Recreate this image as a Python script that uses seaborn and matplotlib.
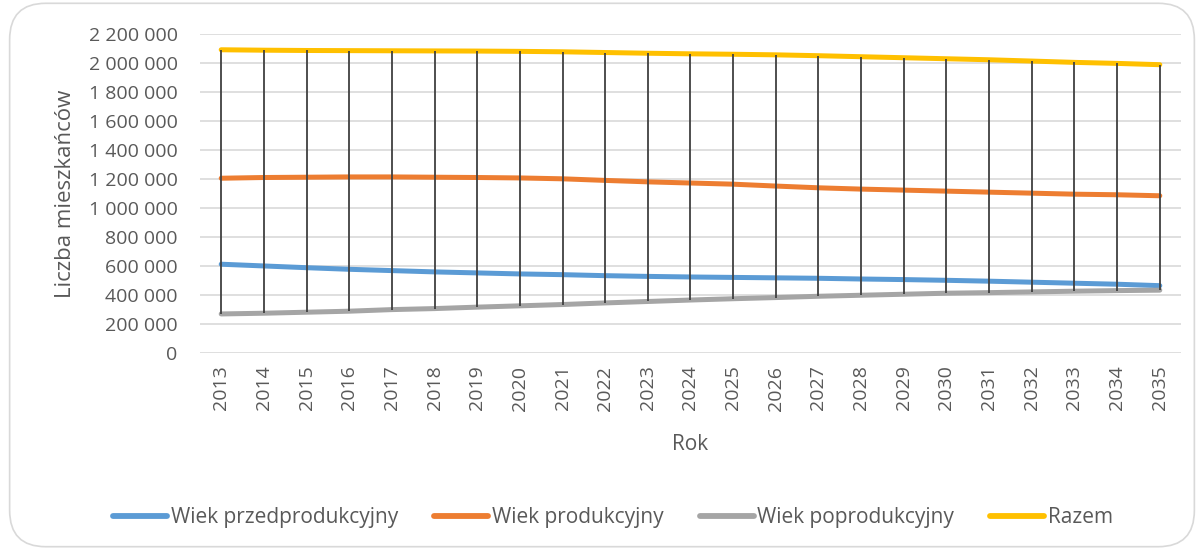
import numpy as np
import pandas as pd
import matplotlib
matplotlib.use("Agg")
import matplotlib.pyplot as plt
import seaborn as sns
from matplotlib.patches import FancyBboxPatch
from matplotlib.ticker import FuncFormatter

# dane
lata = list(range(2013, 2036))
przedprodukcyjny = [613000, 601000, 589000, 578000, 569000, 560000, 553000, 546000,
                    541000, 534000, 529000, 525000, 522000, 519000, 516000, 511000,
                    507000, 502000, 496000, 489000, 482000, 475000, 465000]
produkcyjny = [1206000, 1211000, 1213000, 1215000, 1215000, 1213000, 1211000, 1208000,
               1202000, 1191000, 1181000, 1173000, 1165000, 1152000, 1140000, 1131000,
               1124000, 1117000, 1110000, 1103000, 1096000, 1092000, 1085000]
poprodukcyjny = [270000, 275000, 282000, 289000, 300000, 307000, 317000, 326000,
                 335000, 346000, 356000, 366000, 375000, 383000, 392000, 399000,
                 406000, 413000, 417000, 422000, 427000, 431000, 434000]
razem = [2092000, 2089000, 2087000, 2086000, 2085000, 2084000, 2083000, 2081000,
         2078000, 2073000, 2068000, 2064000, 2061000, 2057000, 2051000, 2044000,
         2037000, 2030000, 2023000, 2014000, 2005000, 1998000, 1989000]
serie = ["Wiek przedprodukcyjny", "Wiek produkcyjny", "Wiek poprodukcyjny", "Razem"]
kolory = ["#5B9BD5", "#ED7D31", "#A5A5A5", "#FFC000"]

df = pd.DataFrame({"Rok": lata, serie[0]: przedprodukcyjny, serie[1]: produkcyjny,
                   serie[2]: poprodukcyjny, serie[3]: razem})
long = df.melt(id_vars="Rok", var_name="Seria", value_name="Wartosc")

sns.set_theme(style="white")
plt.rcParams["font.family"] = ["Open Sans", "DejaVu Sans"]
szary = "#595959"

fig = plt.figure(figsize=(12.04, 5.5), dpi=100)
ax = fig.add_axes([0.166, 0.358, 0.815, 0.58])

# ramka wykresu
fig.patches.append(FancyBboxPatch((0.008, 0.006), 0.984, 0.988,
                                  boxstyle="round,pad=0,rounding_size=0.03",
                                  transform=fig.transFigure, fc="none",
                                  ec="#D9D9D9", lw=1.2, mutation_aspect=2.2))

sns.lineplot(data=long, x="Rok", y="Wartosc", hue="Seria", hue_order=serie,
             palette=dict(zip(serie, kolory)), linewidth=3.6, ax=ax,
             solid_capstyle="round")

# linie wysokie-niskie
wartosci = df[serie].to_numpy()
ax.vlines(df["Rok"], wartosci.min(axis=1), wartosci.max(axis=1),
          color="#404040", lw=1.3, zorder=5)

ax.set_xlim(2012.5, 2035.5)
ax.set_ylim(0, 2200000)
ax.set_yticks(np.arange(0, 2200001, 200000))
ax.yaxis.set_major_formatter(FuncFormatter(lambda v, p: f"{int(v):,}".replace(",", " ")))
ax.set_xticks(lata)
ax.set_xticklabels([str(r) for r in lata], rotation=90)
ax.grid(axis="y", color="#D9D9D9", lw=1.2)
ax.set_axisbelow(True)
for s in ax.spines.values():
    s.set_visible(False)
ax.tick_params(axis="y", length=0, pad=16, labelsize=14, labelcolor=szary)
ax.tick_params(axis="x", length=0, pad=9, labelsize=14, labelcolor=szary)

ax.set_ylabel("Liczba mieszkańców", fontsize=16, color=szary, labelpad=9)
ax.set_xlabel("Rok", fontsize=15, color=szary, labelpad=17)

leg = ax.legend(loc="upper center", bbox_to_anchor=(0.421, -0.425), ncol=4, frameon=False,
                fontsize=15, labelcolor=szary, handlelength=2.6, handletextpad=0.15,
                columnspacing=1.75)
for h in leg.get_lines():
    h.set_linewidth(4.2)

plt.savefig("out.png", dpi=100)
